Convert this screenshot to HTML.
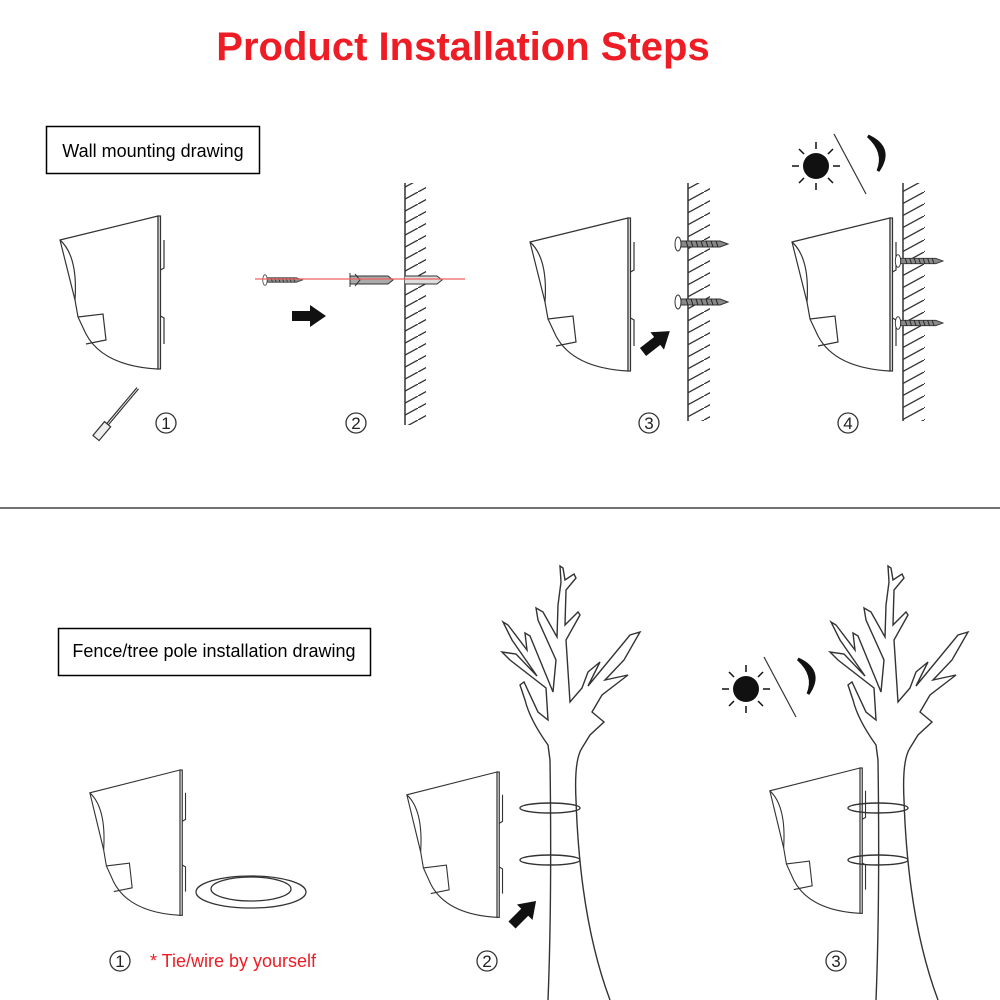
<!DOCTYPE html>
<html><head><meta charset="utf-8"><style>
html,body{margin:0;padding:0;background:#fff}
svg{display:block}
</style></head><body>
<svg width="1000" height="1000" viewBox="0 0 1000 1000" xmlns="http://www.w3.org/2000/svg" font-family="Liberation Sans, sans-serif">
<defs>
<pattern id="h" patternUnits="userSpaceOnUse" width="22" height="12">
<line x1="0" y1="12" x2="22" y2="0" stroke="#333" stroke-width="1.3"/>
</pattern>
<g id="dev" fill="none" stroke="#333" stroke-width="1.2">
<path d="M0,0 L-98,24 L-83,84 L-80,101 L-72,118 Q-55,150 0,153 Z" fill="#fff"/>
<path d="M-98,24 Q-80,40 -83,84"/>
<path d="M-80,101 L-55,98 L-52,124 L-72,128"/>
<rect x="0" y="0" width="2.5" height="153" fill="#ddd"/>
<path d="M6,24 L6,52 L2.5,54 M2.5,100 L6,102 L6,128"/>
</g>
<g id="screw">
<ellipse cx="0" cy="0" rx="3" ry="7" fill="#fff" stroke="#333"/>
<path d="M3,-3 L42,-3 L50,0 L42,3 L3,3 Z" fill="#888" stroke="#333"/>
<path d="M8,-3 L10,3 M13,-3 L15,3 M18,-3 L20,3 M23,-3 L25,3 M28,-3 L30,3 M33,-3 L35,3 M38,-3 L40,3" stroke="#222"/>
</g>
<path id="arrow" d="M0,-5 L18,-5 L18,-11 L34,0 L18,11 L18,5 L0,5 Z" fill="#111"/>
<g id="sun">
<circle cx="0" cy="0" r="13" fill="#111"/>
<g stroke="#111" stroke-width="1.5">
<line x1="0" y1="-17" x2="0" y2="-24"/><line x1="0" y1="17" x2="0" y2="24"/>
<line x1="-17" y1="0" x2="-24" y2="0"/><line x1="17" y1="0" x2="24" y2="0"/>
<line x1="12" y1="12" x2="17" y2="17"/><line x1="-12" y1="12" x2="-17" y2="17"/>
<line x1="12" y1="-12" x2="17" y2="-17"/><line x1="-12" y1="-12" x2="-17" y2="-17"/>
</g>
<line x1="18" y1="-32" x2="50" y2="28" stroke="#333" stroke-width="1.2"/>
<path d="M52,-30 Q78,-18 62,5 Q70,-14 52,-30 Z" fill="#111" stroke="#111" stroke-width="3"/>
</g>
<g id="tree" fill="none" stroke="#333" stroke-width="1.4">
<path d="M548,1000 Q552,900 550,760 L548,745 Q530,720 525,700 L520,685 L524,682 L538,712 L548,720 L546,688 L510,660 L502,652 L516,654 L537,676 L512,640 L503,622 L508,625 L527,650 L525,633 L530,636 L553,692 L556,660 L538,620 L536,608 L543,612 L557,637 L558,605 L561,582 L560,566 L563,568 L565,580 L574,574 L576,578 L566,590 L565,625 L578,612 L580,615 L566,640 L570,702 L582,688 L588,672 L600,662 L588,686 L630,635 L640,632 L624,660 L605,680 L628,675 L602,695 L592,712 L604,722 L590,735 L582,748 Q574,760 576,800 Q580,920 610,1000"/>
<ellipse cx="550" cy="808" rx="30" ry="5"/>
<ellipse cx="550" cy="860" rx="30" ry="5"/>
</g>
</defs>

<text x="463" y="60" text-anchor="middle" font-size="40" font-weight="bold" fill="#ee1c25">Product Installation Steps</text>

<rect x="46.5" y="126.5" width="213" height="47" fill="none" stroke="#000" stroke-width="1.5"/>
<text x="153" y="157" text-anchor="middle" font-size="18" fill="#000">Wall mounting drawing</text>

<use href="#dev" transform="translate(158,216)"/>
<g transform="translate(96,438) rotate(-50)" fill="none" stroke="#333" stroke-width="1.2">
<rect x="0" y="-4" width="18" height="8" fill="#eee"/>
<line x1="18" y1="-1" x2="65" y2="-1"/><line x1="18" y1="1" x2="65" y2="1"/>
</g>
<g font-size="17" fill="#222" text-anchor="middle">
<circle cx="166" cy="423" r="10" fill="none" stroke="#333" stroke-width="1.3"/><text x="166" y="429">1</text>
<circle cx="356" cy="423" r="10" fill="none" stroke="#333" stroke-width="1.3"/><text x="356" y="429">2</text>
<circle cx="649" cy="423" r="10" fill="none" stroke="#333" stroke-width="1.3"/><text x="649" y="429">3</text>
<circle cx="848" cy="423" r="10" fill="none" stroke="#333" stroke-width="1.3"/><text x="848" y="429">4</text>
<circle cx="120" cy="961" r="10" fill="none" stroke="#333" stroke-width="1.3"/><text x="120" y="967">1</text>
<circle cx="487" cy="961" r="10" fill="none" stroke="#333" stroke-width="1.3"/><text x="487" y="967">2</text>
<circle cx="836" cy="961" r="10" fill="none" stroke="#333" stroke-width="1.3"/><text x="836" y="967">3</text>
</g>

<rect x="405" y="183" width="21" height="242" fill="url(#h)"/>
<line x1="405" y1="183" x2="405" y2="425" stroke="#333" stroke-width="1.5"/>
<use href="#screw" transform="translate(265,280) scale(0.75)"/>
<path d="M350,276 L388,276 L393,280 L388,284 L350,284 Z" fill="#aaa" stroke="#333"/>
<path d="M350,273 L350,287 M355,274 L360,280 L355,286" stroke="#333" fill="none"/>
<path d="M405,276 L437,276 L442,280 L437,284 L405,284" fill="#ddd" stroke="#333"/>
<line x1="255" y1="279" x2="465" y2="279" stroke="#f06060" stroke-width="1.2"/>
<use href="#arrow" transform="translate(292,316)"/>

<use href="#dev" transform="translate(628,218)"/>
<rect x="688" y="183" width="22" height="238" fill="url(#h)"/>
<line x1="688" y1="183" x2="688" y2="421" stroke="#333" stroke-width="1.5"/>
<use href="#screw" transform="translate(678,244)"/>
<use href="#screw" transform="translate(678,302)"/>
<use href="#arrow" transform="translate(643,352) rotate(-38)"/>

<use href="#dev" transform="translate(890,218)"/>
<rect x="903" y="183" width="22" height="238" fill="url(#h)"/>
<line x1="903" y1="183" x2="903" y2="421" stroke="#333" stroke-width="1.5"/>
<use href="#screw" transform="translate(898,261) scale(0.9)"/>
<use href="#screw" transform="translate(898,323) scale(0.9)"/>
<use href="#sun" transform="translate(816,166)"/>

<line x1="0" y1="508" x2="1000" y2="508" stroke="#444" stroke-width="1.5"/>

<rect x="58.5" y="628.5" width="312" height="47" fill="none" stroke="#000" stroke-width="1.5"/>
<text x="214" y="657" text-anchor="middle" font-size="18" fill="#000">Fence/tree pole installation drawing</text>

<use href="#dev" transform="translate(180,770) scale(0.92,0.95)"/>
<ellipse cx="251" cy="892" rx="55" ry="16" fill="none" stroke="#333" stroke-width="1.3"/>
<ellipse cx="251" cy="889" rx="40" ry="12" fill="none" stroke="#333" stroke-width="1.3"/>
<text x="150" y="967" font-size="18" fill="#ee1c25">* Tie/wire by yourself</text>

<use href="#dev" transform="translate(497,772) scale(0.92,0.95)"/>
<use href="#tree"/>
<use href="#arrow" transform="translate(512,925) rotate(-45)"/>

<use href="#dev" transform="translate(860,768) scale(0.92,0.95)"/>
<use href="#tree" transform="translate(328,0)"/>
<use href="#sun" transform="translate(746,689)"/>
</svg>
</body></html>
